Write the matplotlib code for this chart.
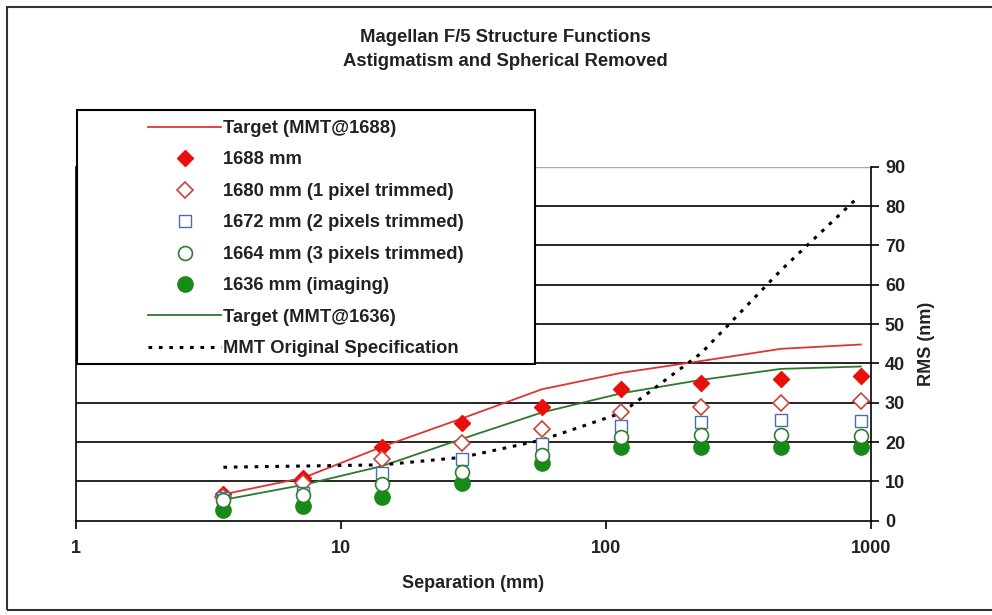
import matplotlib
matplotlib.use("Agg")
import matplotlib.pyplot as plt
from matplotlib.patches import Rectangle

plt.rcParams['font.family'] = ['Liberation Sans', 'DejaVu Sans']
plt.rcParams['font.weight'] = 'bold'

# separation (mm)
separation = [3.6, 7.2, 14.3, 28.6, 57.2, 114.4, 228.8, 457.6, 915.2]

# RMS (nm) per data set
target_1688 = [6.7, 10.9, 18.8, 26.0, 33.4, 37.6, 40.6, 43.7, 44.8]
rms_1688 = [6.7, 10.9, 18.7, 24.9, 28.8, 33.4, 34.9, 35.9, 36.8]
rms_1680 = [6.0, 9.7, 15.6, 19.8, 23.2, 27.7, 28.8, 29.8, 30.5]
rms_1672 = [5.7, 7.0, 12.2, 15.6, 19.5, 24.1, 25.2, 25.6, 25.4]
rms_1664 = [5.3, 6.5, 9.3, 12.5, 16.7, 21.2, 21.8, 21.8, 21.6]
rms_1636 = [2.7, 3.7, 5.9, 9.5, 14.6, 18.8, 18.8, 18.8, 18.8]
target_1636 = [5.3, 9.1, 13.9, 20.8, 27.5, 32.4, 35.8, 38.6, 39.2]
spec_x = [3.6, 7.2, 14.3, 28.6, 57.2, 114.4, 228.8, 457.6, 870.0]
spec_mmt = [13.6, 13.9, 14.2, 16.1, 20.5, 27.4, 42.6, 63.7, 81.5]

W, H = 992, 615
fig = plt.figure(figsize=(W / 100, H / 100), dpi=100)

# outer chart frame
fig.add_artist(Rectangle((7 / W, 1 - 610 / H), 1.1, (610 - 7) / H,
                         transform=fig.transFigure, fill=False,
                         edgecolor='#333333', linewidth=1.5, zorder=0))

ax = fig.add_axes([76 / W, 1 - 520.7 / H, (871 - 76) / W, (520.7 - 166.7) / H])

red_line = '#e0342f'
green_line = '#2b7a2b'

ax.plot(separation, target_1688, color=red_line, lw=1.3, zorder=3,
        label='Target (MMT@1688)')
ax.plot(separation, rms_1688, 'D', color='#e8100c', ms=8.5, zorder=4,
        label='1688 mm')
ax.plot(separation, rms_1680, 'D', mfc='white', mec='#c8453a', mew=1.2,
        ms=8.5, zorder=4, label='1680 mm (1 pixel trimmed)')
ax.plot(separation, rms_1672, 's', mfc='white', mec='#4a6fa8', mew=1.0,
        ms=8.5, zorder=4, label='1672 mm (2 pixels trimmed)')
ax.plot(separation, rms_1664, 'o', mfc='white', mec='#2f7d2f', mew=1.2,
        ms=10, zorder=4, label='1664 mm (3 pixels trimmed)')
ax.plot(separation, rms_1636, 'o', color='#178a17', ms=11, zorder=3.5,
        label='1636 mm (imaging)')
ax.plot(separation, target_1636, color=green_line, lw=1.3, zorder=3,
        label='Target (MMT@1636)')
ax.plot(spec_x, spec_mmt, color='black', lw=2.2, ls=(0, (1.2, 2.2)),
        zorder=3, label='MMT Original Specification')

ax.set_xscale('log')
ax.set_xlim(1, 1000)
ax.set_ylim(0, 90)
ax.set_xticks([1, 10, 100, 1000])
ax.set_xticklabels(['1', '10', '100', '1000'])
ax.minorticks_off()
ax.set_yticks(range(0, 100, 10))

for v in range(10, 90, 10):
    ax.axhline(v, color='black', lw=1.2, zorder=1)
ax.axhline(90, color='#aaaaaa', lw=1.0, zorder=1)

ax.yaxis.tick_right()
ax.yaxis.set_label_position('right')
ax.spines['top'].set_visible(False)
for side in ['left', 'right', 'bottom']:
    ax.spines[side].set_linewidth(1.2)
    ax.spines[side].set_color('black')

ax.tick_params(axis='y', direction='out', length=6, width=1.2, pad=4,
               labelsize=13, colors='black', left=False, right=True)
ax.tick_params(axis='x', direction='out', length=6, width=1.2, pad=8,
               labelsize=13, colors='black')
for lbl in ax.get_xticklabels() + ax.get_yticklabels():
    lbl.set_fontweight('bold')
    lbl.set_color('#222222')

ax.set_ylabel('RMS (nm)', fontsize=13, fontweight='bold', labelpad=9,
              color='#222222')
ax.set_xlabel('Separation (mm)', fontsize=13, fontweight='bold',
              labelpad=13, color='#222222')

fig.text(505 / W, 1 - 38 / H, 'Magellan F/5 Structure Functions',
         ha='center', va='center', fontsize=13.3, fontweight='bold',
         color='#222222')
fig.text(505 / W, 1 - 62 / H, 'Astigmatism and Spherical Removed',
         ha='center', va='center', fontsize=13.3, fontweight='bold',
         color='#222222')

# legend box covering the upper-left of the plot
fig.add_artist(Rectangle((77 / W, 1 - 364 / H), (535 - 77) / W,
                         (364 - 110) / H, transform=fig.transFigure,
                         facecolor='white', edgecolor='black',
                         linewidth=1.5, zorder=2))
handles, labels = ax.get_legend_handles_labels()
leg = fig.legend(handles, labels, loc='upper left',
                 bbox_to_anchor=(148 / W, 1 - 120 / H), frameon=False,
                 borderpad=0, borderaxespad=0, handlelength=4.0,
                 handletextpad=0.1, labelspacing=0.79,
                 prop={'size': 13.2, 'weight': 'bold'})
leg.set_zorder(5)
for t in leg.get_texts():
    t.set_color('#222222')

fig.savefig('out.png', dpi=100)
